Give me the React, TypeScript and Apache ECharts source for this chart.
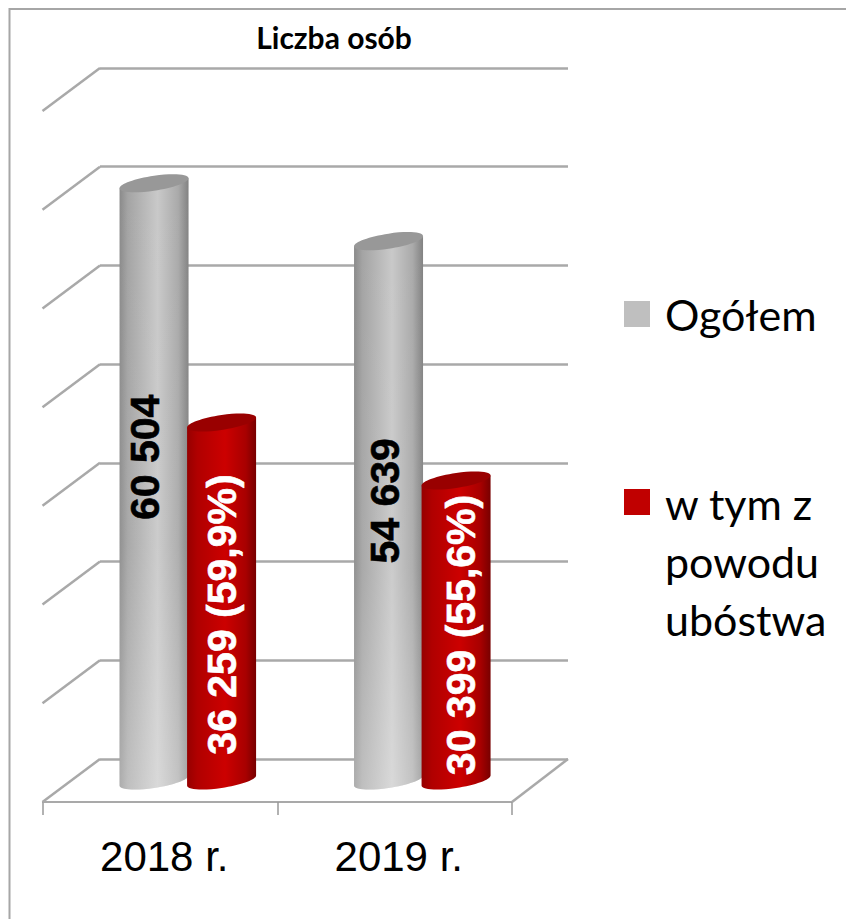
import React, { useEffect, useRef } from "react";
import * as echarts from "echarts";

const categories = ["2018 r.", "2019 r."];
const wallTicks = [0, 10000, 20000, 30000, 40000, 50000, 60000, 70000];
const totalName = "Ogółem";
const totalValues = [60504, 54639];
const totalLabels = ["60 504", "54 639"];
const povertyName = "w tym z\npowodu\nubóstwa";
const povertyValues = [36259, 30399];
const povertyLabels = ["36 259 (59,9%)", "30 399 (55,6%)"];
const chartTitle = "Liczba osób";

const totalLabelShift = [[-9.5, -24.5], [-4, -10]];
const povertyLabelShift = [[0, 13], [5, 4.5]];

const LINE = "#a9a9a9";
const DEPTH_X = -57.5;
const DEPTH_Y = 43;
const BAR_W = 69;
const TILT = 5;
const RY = 7.5;
const K = 0.5523;

function cylinder(params: any, api: any, o: any) {
  const idx = api.value(0);
  const val = api.value(1);
  const band = api.size([1, 0])[0];
  const base = api.coord([idx, 0]);
  const top = api.coord([idx, val]);
  const cx = base[0] + band * o.offset;
  const a = BAR_W / 2;
  // sheared ellipse: vertical tangents at both ends, right end higher than left
  const pt = (cy: number, u: number, v: number) =>
    `${cx + a * u} ${cy - TILT * u + RY * v}`;
  const lowerHalf = (cy: number) =>
    `C${pt(cy, -1, K)} ${pt(cy, -K, 1)} ${pt(cy, 0, 1)}` +
    `C${pt(cy, K, 1)} ${pt(cy, 1, K)} ${pt(cy, 1, 0)}`;
  const upperHalf = (cy: number) =>
    `C${pt(cy, 1, -K)} ${pt(cy, K, -1)} ${pt(cy, 0, -1)}` +
    `C${pt(cy, -K, -1)} ${pt(cy, -1, -K)} ${pt(cy, -1, 0)}`;
  const body =
    `M${pt(top[1], -1, 0)}L${pt(base[1], -1, 0)}` +
    lowerHalf(base[1]) +
    `L${pt(top[1], 1, 0)}Z`;
  const cap = `M${pt(top[1], -1, 0)}` + lowerHalf(top[1]) + upperHalf(top[1]) + "Z";
  const fill = new echarts.graphic.LinearGradient(0, 0, 1, 0, o.stops);
  const children: any[] = [
    { type: "path", shape: { pathData: body }, style: { fill } },
  ];
  if (o.sheen) {
    children.push({
      type: "path",
      shape: { pathData: body },
      style: {
        fill: new echarts.graphic.LinearGradient(0, 0, 0, 1, [
          { offset: 0, color: "rgba(255,255,255,0)" },
          { offset: 0.6, color: "rgba(255,255,255,0.06)" },
          { offset: 1, color: "rgba(255,255,255,0.3)" },
        ]),
      },
    });
  }
  children.push({ type: "path", shape: { pathData: cap }, style: { fill: o.cap } });
  const shift = o.shifts[idx];
  children.push({
    type: "text",
    x: cx + shift[0],
    y: (base[1] + top[1]) / 2 + shift[1],
    rotation: Math.PI / 2,
    style: {
      text: o.labels[idx],
      fill: o.text,
      stroke: o.text,
      lineWidth: 0.6,
      font: 'bold 41px "Liberation Sans", Arial, sans-serif',
      align: "center",
      verticalAlign: "middle",
    },
  });
  return { type: "group", children };
}

const hiddenX = (gridIndex: number) => ({
  type: "category" as const,
  gridIndex,
  data: categories,
  show: false,
});

export default function App() {
  const ref = useRef<HTMLDivElement>(null);
  useEffect(() => {
    document.body.style.margin = "0";
    const chart = echarts.init(ref.current!, undefined, { renderer: "svg" });
    const legendFont = '43px Lato, "Noto Sans", sans-serif';
    chart.setOption({
      animation: false,
      backgroundColor: "#ffffff",
      title: {
        text: chartTitle,
        left: 329,
        top: 17,
        textAlign: "center",
        textStyle: {
          fontFamily: 'Lato, "Noto Sans", sans-serif',
          fontWeight: "bold",
          fontSize: 30,
          color: "#000000",
        },
      },
      grid: [
        { left: 100, top: 68, width: 468, height: 691 },
        { left: 43, top: 111, width: 469, height: 691 },
        { left: 71.5, top: 89.5, width: 469, height: 691 },
      ],
      xAxis: [
        hiddenX(0),
        {
          type: "category",
          gridIndex: 1,
          data: categories,
          axisLine: { lineStyle: { color: LINE, width: 2 } },
          axisTick: { show: true, length: 13, alignWithLabel: false, lineStyle: { color: "#999999", width: 1.5 } },
          axisLabel: {
            color: "#000000",
            fontSize: 42,
            fontFamily: '"Liberation Sans", Arial, sans-serif',
            margin: 33,
            padding: [0, 0, 0, 8],
          },
        },
        hiddenX(2),
      ],
      yAxis: [
        {
          type: "value",
          gridIndex: 0,
          min: 0,
          max: 70000,
          interval: 10000,
          axisLine: { show: false },
          axisTick: { show: false },
          axisLabel: { show: false },
          splitLine: { show: true, lineStyle: { color: LINE, width: 2.5 } },
        },
        { type: "value", gridIndex: 1, min: 0, max: 70000, interval: 10000, show: false, splitLine: { show: false } },
        { type: "value", gridIndex: 2, min: 0, max: 70000, interval: 10000, show: false, splitLine: { show: false } },
      ],
      series: [
        {
          type: "custom",
          name: "side wall",
          xAxisIndex: 0,
          yAxisIndex: 0,
          silent: true,
          data: wallTicks.map((v) => [v]),
          encode: { y: 0 },
          renderItem: (params: any, api: any) => {
            const y = api.coord([0, api.value(0)])[1];
            const x = params.coordSys.x;
            const w = params.coordSys.width;
            const lineStyle = { stroke: LINE, lineWidth: 2.5 };
            const children: any[] = [
              { type: "line", shape: { x1: x, y1: y, x2: x + DEPTH_X, y2: y + DEPTH_Y }, style: lineStyle },
            ];
            if (api.value(0) === 0) {
              children.push({
                type: "line",
                shape: { x1: x + w, y1: y, x2: x + w + DEPTH_X + 1.5, y2: y + DEPTH_Y },
                style: lineStyle,
              });
            }
            return { type: "group", children };
          },
        },
        {
          type: "custom",
          name: totalName,
          xAxisIndex: 2,
          yAxisIndex: 2,
          data: totalValues.map((v, i) => [i, v]),
          encode: { x: 0, y: 1 },
          renderItem: (p: any, api: any) =>
            cylinder(p, api, {
              offset: -0.148,
              stops: [
                { offset: 0, color: "#8a8a8a" },
                { offset: 0.12, color: "#a4a4a4" },
                { offset: 0.55, color: "#c9c9c9" },
                { offset: 0.85, color: "#aaaaaa" },
                { offset: 1, color: "#828282" },
              ],
              cap: "#989898",
              sheen: true,
              labels: totalLabels,
              shifts: totalLabelShift,
              text: "#000000",
            }),
        },
        {
          type: "custom",
          name: povertyName,
          xAxisIndex: 2,
          yAxisIndex: 2,
          data: povertyValues.map((v, i) => [i, v]),
          encode: { x: 0, y: 1 },
          renderItem: (p: any, api: any) =>
            cylinder(p, api, {
              offset: 0.14,
              stops: [
                { offset: 0, color: "#960000" },
                { offset: 0.15, color: "#b00000" },
                { offset: 0.55, color: "#cc0000" },
                { offset: 0.85, color: "#a80000" },
                { offset: 1, color: "#780000" },
              ],
              cap: "#990000",
              labels: povertyLabels,
              shifts: povertyLabelShift,
              text: "#ffffff",
            }),
        },
      ],
      graphic: [
        {
          type: "polyline",
          shape: { points: [[9.5, 919], [9.5, 9], [846, 9]] },
          style: { stroke: "#a6a6a6", lineWidth: 2, fill: "none" },
        },
        { type: "rect", shape: { x: 624, y: 301, width: 26, height: 26 }, style: { fill: "#bfbfbf" } },
        { type: "rect", shape: { x: 624, y: 489, width: 26, height: 26 }, style: { fill: "#c00000" } },
        {
          type: "text",
          x: 665,
          y: 314,
          style: { text: totalName, font: legendFont, fill: "#000000", verticalAlign: "middle" },
        },
        {
          type: "text",
          x: 665,
          y: 474,
          style: {
            text: povertyName,
            font: legendFont,
            fill: "#000000",
            lineHeight: 58,
            verticalAlign: "top",
          },
        },
      ],
    });
    return () => chart.dispose();
  }, []);
  return (
    <div
      ref={ref}
      style={{ position: "absolute", left: 0, top: 0, width: 846, height: 919, background: "#fff" }}
    />
  );
}
